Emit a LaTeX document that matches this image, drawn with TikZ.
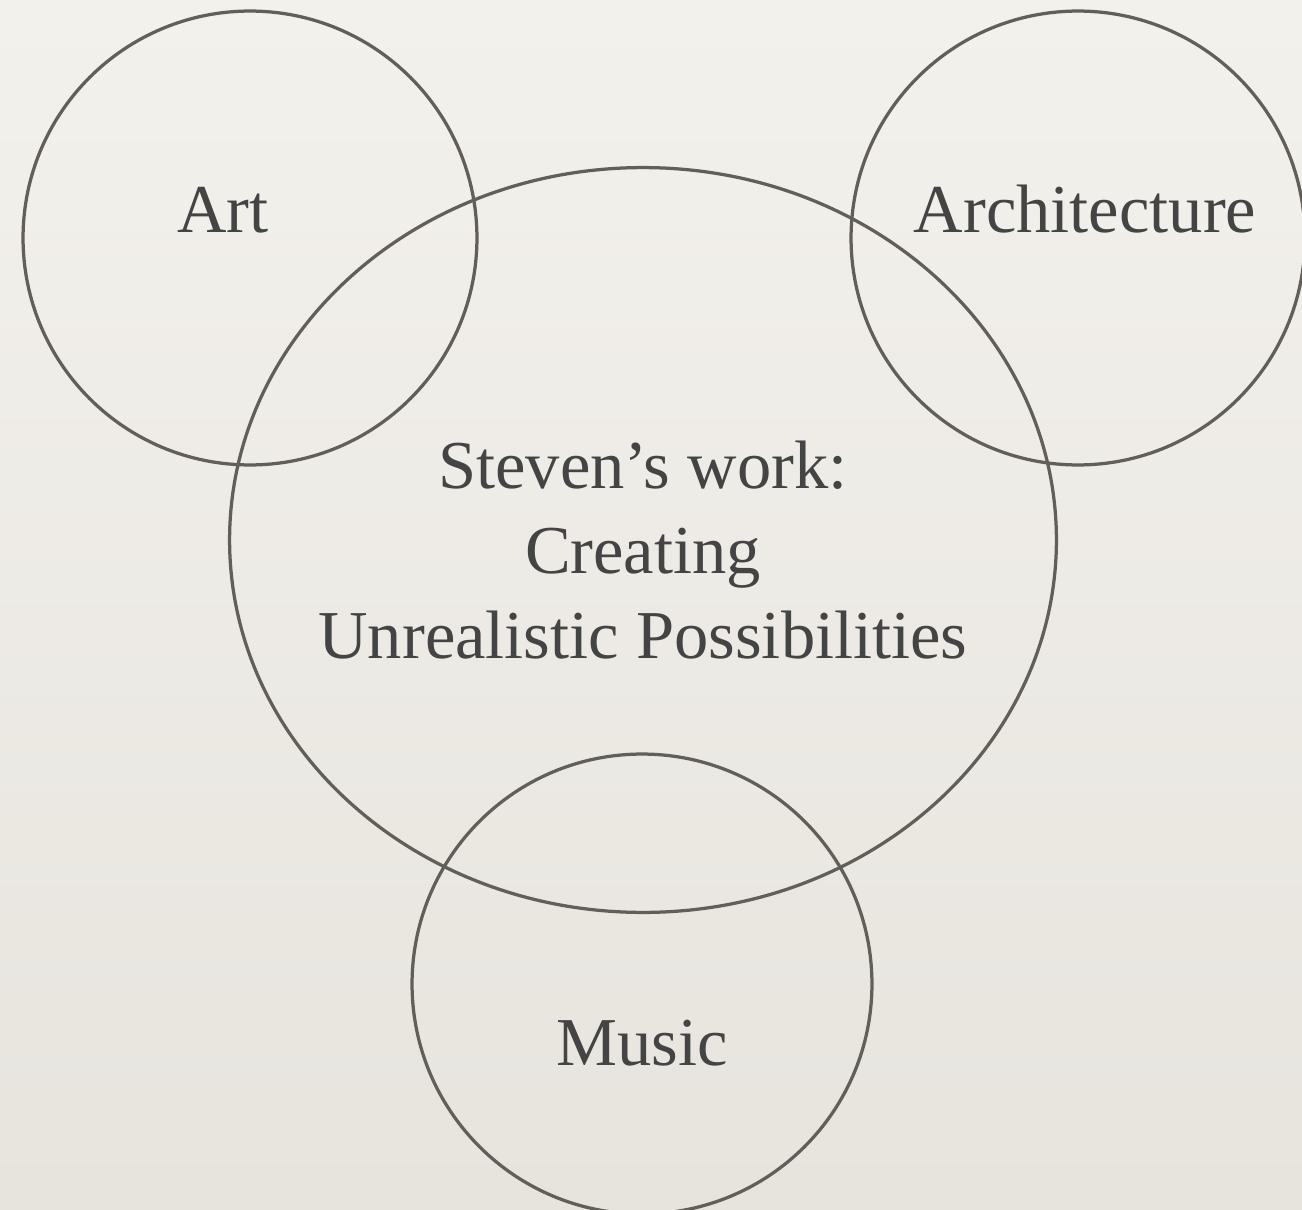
\documentclass[tikz,border=0pt]{standalone}
\usepackage{fontspec}
\setmainfont{Liberation Serif}
\usetikzlibrary{shapes.geometric}

\definecolor{paper}{RGB}{243,241,236}
\definecolor{paperdark}{RGB}{231,228,222}
\definecolor{ring}{RGB}{98,94,89}
\definecolor{ink}{RGB}{68,68,68}

\tikzset{
  ring/.style={draw=ring, line width=0.065cm, inner sep=0pt, outer sep=0pt},
  label/.style={text=ink, font=\fontsize{39}{48.5}\selectfont, inner sep=0pt}
}

\begin{document}
\begin{tikzpicture}[x=0.02cm, y=-0.02cm]
            \useasboundingbox (0,0) rectangle (1302,1210);
            \fill[top color=paper, bottom color=paperdark] (0,0) rectangle (1302,1210);

            \node[ring, circle, minimum size=9.08cm] (art) at (250,238) {};
            \node[ring, circle, minimum size=9.08cm] (arch) at (1078,238) {};
            \node[ring, ellipse, minimum width=16.54cm, minimum height=14.9cm] (work) at (643,540) {};
            \node[ring, circle, minimum size=9.2cm] (music) at (642,984) {};

            \node[label, anchor=base] (artlabel) at (223,232) {Art};
            \node[label, anchor=base] (archlabel) at (1085,232) {Architecture};
            \node[label, align=center] (worklabel) at (643,550) {Steven’s work:\\Creating\\Unrealistic Possibilities};
            \node[label, anchor=base] (musiclabel) at (642,1065) {Music};
        \end{tikzpicture}
\end{document}
